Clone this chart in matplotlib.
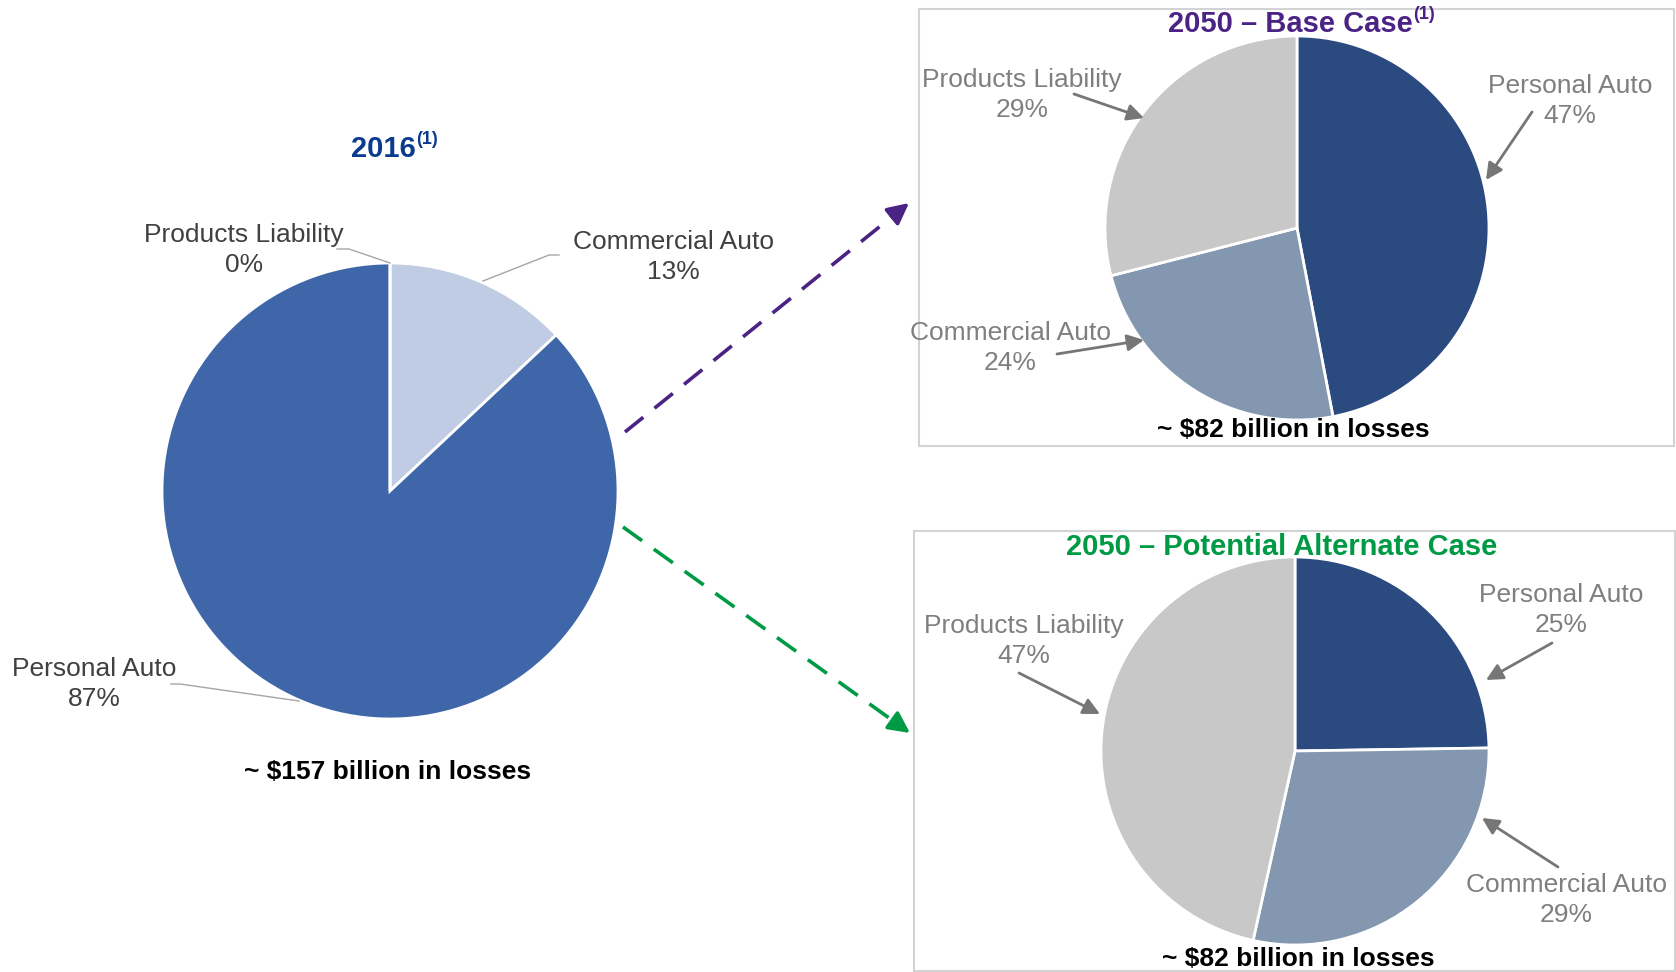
import matplotlib.pyplot as plt
from matplotlib.patches import Rectangle

plt.rcParams['font.family'] = ['Liberation Sans', 'DejaVu Sans']

W, H = 1676, 972

# segment shares, listed clockwise from 12 o'clock
labels_2016 = ['Commercial Auto', 'Personal Auto', 'Products Liability']
share_2016 = [13, 87, 0]
labels_2050 = ['Personal Auto', 'Commercial Auto', 'Products Liability']
share_base = [47, 24, 29]
share_alt = [25, 29, 47]

losses_2016 = 157
losses_2050 = 82

colors_2016 = ['#C0CCE4', '#4066AA', '#A5A5A5']
colors_2050 = ['#2A4A80', '#8497B0', '#C8C8C8']

fig = plt.figure(figsize=(W / 100, H / 100), dpi=100)

# overlay in pixel units for boxes, text and arrows
bg = fig.add_axes([0, 0, 1, 1])
bg.set_xlim(0, W)
bg.set_ylim(H, 0)
bg.axis('off')
bg.set_zorder(5)


def draw_pie(cx, cy, r, shares, colors):
    ax = fig.add_axes([(cx - r) / W, 1 - (cy + r) / H, 2 * r / W, 2 * r / H])
    ax.pie(shares, colors=colors, startangle=90, counterclock=False, radius=1,
           wedgeprops=dict(edgecolor='white', linewidth=2, clip_on=False))
    # pie() widens the limits, pull them back so radius 1 fills the box
    ax.set_xlim(-1, 1)
    ax.set_ylim(-1, 1)
    ax.axis('off')
    return ax


draw_pie(390, 491, 228, share_2016, colors_2016)
draw_pie(1297, 228, 192, share_base, colors_2050)
draw_pie(1295, 751, 194, share_alt, colors_2050)

# frames around the 2050 cases
bg.add_patch(Rectangle((919, 9), 755, 437, fill=False, edgecolor='#D3D3D3', lw=1.5))
bg.add_patch(Rectangle((914, 531), 761, 440, fill=False, edgecolor='#D3D3D3', lw=1.5))


def title(x, y, text, color, sup=None, ha='left'):
    t = bg.text(x, y, text, ha=ha, va='center', fontsize=21, weight='bold', color=color)
    if sup:
        bg.annotate(sup, xy=(1, 1), xycoords=t, xytext=(0, 3), textcoords='offset points',
                    ha='left', va='top', fontsize=13, weight='bold', color=color)


title(351, 149, '2016', '#0B3A8F', sup='(1)')
title(1168, 24, '2050 \u2013 Base Case', '#4B2385', sup='(1)')
title(1282, 547, '2050 \u2013 Potential Alternate Case', '#009A44', ha='center')

total_kw = dict(ha='center', va='center', fontsize=19, weight='bold', color='black')
bg.text(388, 772, rf'~ \${losses_2016} billion in losses', **total_kw)
bg.text(1293, 430, rf'~ \${losses_2050} billion in losses', **total_kw)
bg.text(1298, 959, rf'~ \${losses_2050} billion in losses', **total_kw)

label_kw = dict(ha='center', va='center', fontsize=19, linespacing=1.35)

# 2016 labels with thin leader lines
pos_2016 = [(673, 257), (94, 684), (244, 250)]
leaders_2016 = [
    [(559, 255), (549, 255), (483, 281)],
    [(171, 684), (180, 684), (299, 701)],
    [(337, 249), (349, 249), (390, 263)],
]
for name, val, (x, y), pts in zip(labels_2016, share_2016, pos_2016, leaders_2016):
    bg.text(x, y, f'{name}\n{val}%', color='#404040', **label_kw)
    bg.plot([p[0] for p in pts], [p[1] for p in pts], color='#A6A6A6', lw=1)


def arrow(tail, tip, color='#767676', lw=2, scale=25):
    bg.annotate('', xy=tip, xytext=tail,
                arrowprops=dict(arrowstyle='-|>', color=color, lw=lw,
                                mutation_scale=scale, shrinkA=0, shrinkB=0))


# 2050 labels with arrows pointing to the slices
pos_base = [(1570, 101), (1010, 348), (1022, 95)]
arrows_base = [((1532, 112), (1486, 180)), ((1057, 354), (1144, 340)),
               ((1074, 94), (1144, 118))]
for name, val, (x, y), (tail, tip) in zip(labels_2050, share_base, pos_base, arrows_base):
    bg.text(x, y, f'{name}\n{val}%', color='#7F7F7F', **label_kw)
    arrow(tail, tip)

pos_alt = [(1561, 610), (1566, 900), (1024, 641)]
arrows_alt = [((1552, 643), (1486, 680)), ((1558, 867), (1482, 818)),
              ((1019, 673), (1100, 714))]
for name, val, (x, y), (tail, tip) in zip(labels_2050, share_alt, pos_alt, arrows_alt):
    bg.text(x, y, f'{name}\n{val}%', color='#7F7F7F', **label_kw)
    arrow(tail, tip)


# dashed connectors from 2016 to each 2050 case
def dashed_arrow(start, tip, color):
    dx, dy = tip[0] - start[0], tip[1] - start[1]
    n = (dx ** 2 + dy ** 2) ** 0.5
    back = (tip[0] - dx / n * 20, tip[1] - dy / n * 20)
    bg.plot([start[0], back[0]], [start[1], back[1]], color=color, lw=2.6,
            dashes=(6.5, 4))
    arrow(back, tip, color=color, lw=2.6, scale=32)


dashed_arrow((625, 432), (909, 203), '#4B2385')
dashed_arrow((623, 527), (910, 733), '#009A44')

fig.savefig('out.png', dpi=100)
